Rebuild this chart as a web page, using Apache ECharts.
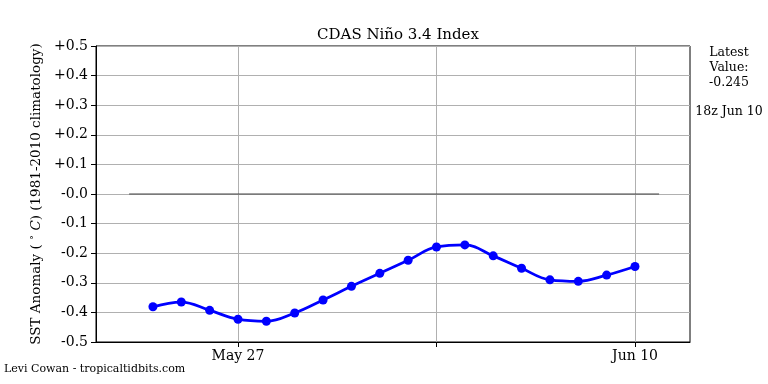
<!DOCTYPE html>
<html>
<head>
<meta charset="utf-8">
<script src="https://cdn.jsdelivr.net/npm/echarts@6/dist/echarts.min.js"></script>
<style>html,body{margin:0;padding:0;background:#fff;}#c{width:768px;height:384px;}</style>
</head>
<body>
<div id="c"></div>
<script>
// Days relative to May 27 (0 = May 27, 14 = Jun 10)
const dayOffsets = [-3,-2,-1,0,1,2,3,4,5,6,7,8,9,10,11,12,13,14];
const anomalies = [-0.381,-0.365,-0.393,-0.423,-0.430,-0.402,-0.358,-0.312,-0.268,-0.224,-0.179,-0.172,-0.209,-0.251,-0.290,-0.295,-0.274,-0.245];
const zeroLineX = [-3.84, 14.85];
const xTickValues = [0, 7, 14];
const xTickLabels = {0: 'May 27', 7: '', 14: 'Jun 10'};
const latestValue = '-0.245';
const latestTime = '18z Jun 10';

const font = 'DejaVu Serif';
const chart = echarts.init(document.getElementById('c'));
chart.setOption({
  animation: false,
  title: {
    text: 'CDAS Niño 3.4 Index', left: 393, top: 23, textAlign: 'center',
    textStyle: {fontFamily: font, fontSize: 15, fontWeight: 'normal', color: '#000'}
  },
  grid: {left: 96, right: 78, top: 46, bottom: 42, show: true, borderColor: '#000', borderWidth: 1},
  xAxis: {
    type: 'value', min: -5.008, max: 15.94,
    axisLine: {show: true, onZero: false, lineStyle: {color: '#000'}},
    axisTick: {show: true, customValues: xTickValues, length: 5, lineStyle: {color: '#000'}},
    axisLabel: {customValues: xTickValues, formatter: v => xTickLabels[Math.round(v)] || '', fontFamily: font, fontSize: 14, color: '#000', margin: 7},
    splitLine: {show: true, lineStyle: {color: '#b0b0b0', width: 1}}
  },
  yAxis: {
    type: 'value', min: -0.5, max: 0.5, interval: 0.1,
    name: 'SST Anomaly ( {s|°} {i|C}) (1981-2010 climatology)',
    nameLocation: 'middle', nameGap: 51, nameRotate: 90,
    nameTextStyle: {fontFamily: font, fontSize: 13.5, color: '#000',
      rich: {s: {fontFamily: font, fontSize: 10, verticalAlign: 'top', color: '#000'}, i: {fontFamily: font, fontSize: 13.5, fontStyle: 'italic', color: '#000'}}},
    axisLine: {show: true, onZero: false, lineStyle: {color: '#000'}},
    axisTick: {show: true, length: 5, lineStyle: {color: '#000'}},
    axisLabel: {fontFamily: font, fontSize: 14, color: '#000', margin: 8,
      formatter: v => { const r = Math.round(v * 10) / 10; return (r > 0 ? '+' : '-') + Math.abs(r).toFixed(1); }},
    splitLine: {show: true, lineStyle: {color: '#b0b0b0', width: 1}}
  },
  series: [
    {
      type: 'line', data: zeroLineX.map(x => [x, 0]), symbol: 'none',
      lineStyle: {color: '#444', width: 1.2}, silent: true, z: 1
    },
    {
      type: 'line', data: dayOffsets.map((d, i) => [d, anomalies[i]]), smooth: 0.4,
      symbol: 'circle', symbolSize: 9, itemStyle: {color: '#0000ff'},
      lineStyle: {color: '#0000ff', width: 2.8}, z: 3
    }
  ],
  graphic: [
    {type: 'text', x: 729, y: 45, style: {text: 'Latest\nValue:\n' + latestValue, fontFamily: font, fontSize: 12.5, fill: '#000', align: 'center', lineHeight: 15}},
    {type: 'text', x: 729, y: 105, style: {text: latestTime, fontFamily: font, fontSize: 12.5, fill: '#000', align: 'center'}},
    {type: 'text', left: 4, top: 364, style: {text: 'Levi Cowan - tropicaltidbits.com', fontFamily: font, fontSize: 11, fill: '#000'}}
  ]
});
</script>
</body>
</html>
